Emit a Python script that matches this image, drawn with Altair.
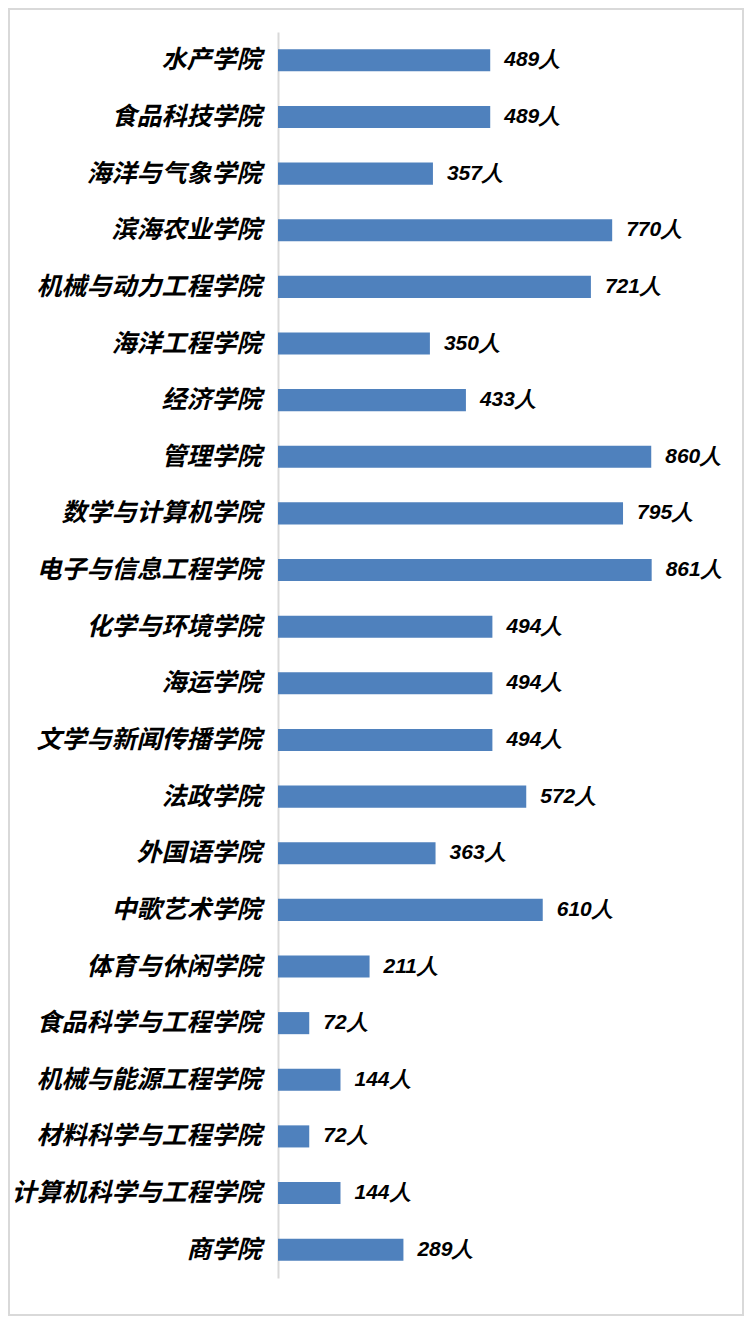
import altair as alt
import pandas as pd

colleges = ["水产学院", "食品科技学院", "海洋与气象学院", "滨海农业学院", "机械与动力工程学院",
            "海洋工程学院", "经济学院", "管理学院", "数学与计算机学院", "电子与信息工程学院",
            "化学与环境学院", "海运学院", "文学与新闻传播学院", "法政学院", "外国语学院",
            "中歌艺术学院", "体育与休闲学院", "食品科学与工程学院", "机械与能源工程学院",
            "材料科学与工程学院", "计算机科学与工程学院", "商学院"]
counts = [489, 489, 357, 770, 721, 350, 433, 860, 795, 861, 494, 494, 494, 572, 363,
          610, 211, 72, 144, 72, 144, 289]

df = pd.DataFrame({"college": colleges, "count": counts})

W, H = 434, 1246
PAD = {"left": 270, "top": 24, "right": 32, "bottom": 38}

base = alt.Chart(df).encode(
    y=alt.Y("college:N", sort=None,
            scale=alt.Scale(paddingInner=0.61, paddingOuter=0.305),
            axis=alt.Axis(title=None, ticks=False, grid=False, domainColor="#d9d9d9",
                          domainWidth=2, labelFont="Noto Sans CJK SC", labelFontSize=25,
                          labelFontWeight="bold", labelFontStyle="italic",
                          labelColor="#000000", labelPadding=17, labelLimit=300)),
    x=alt.X("count:Q", scale=alt.Scale(domain=[0, 1000], nice=False), axis=None),
)

bars = base.mark_bar(color="#4F81BD")
text = base.transform_calculate(lbl="datum.count + '人'").mark_text(
    align="left", baseline="middle", dx=14, font="Arial", fontSize=21,
    fontWeight="bold", fontStyle="italic", color="#000000"
).encode(text="lbl:N")

border = alt.Chart(alt.Data(values=[{}])).mark_rect(
    fill=None, stroke="#d9d9d9", strokeWidth=2
).encode(
    x=alt.value(-PAD["left"] + 1), x2=alt.value(W + PAD["right"] - 1),
    y=alt.value(-PAD["top"] + 1), y2=alt.value(H + PAD["bottom"] - 1),
)

chart = alt.layer(bars, text, border).properties(
    width=W, height=H, padding=PAD, autosize=alt.AutoSizeParams(type="none")
).configure(background="white").configure_view(stroke=None, strokeWidth=0)

chart.save("out.html", embed_options={"renderer": "svg", "actions": False})
